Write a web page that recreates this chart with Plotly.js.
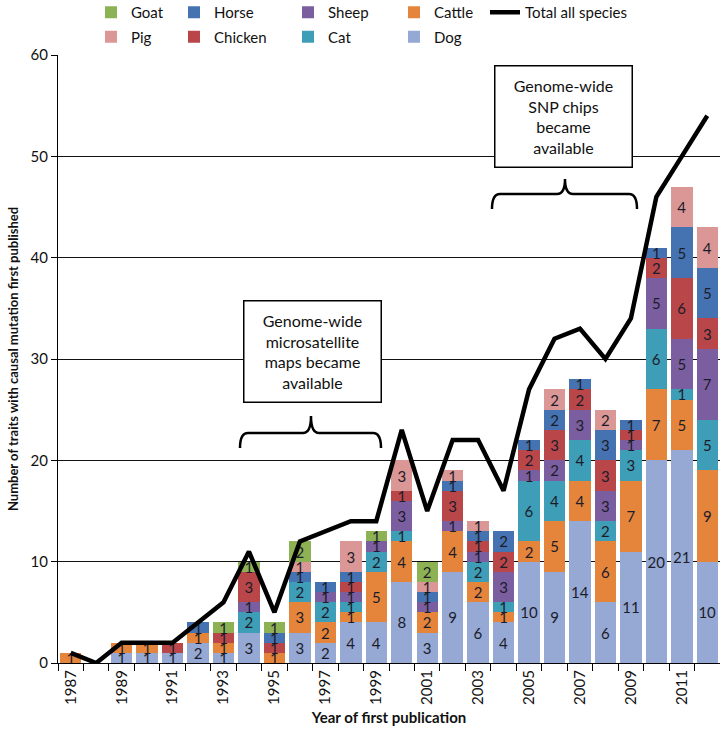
<!DOCTYPE html>
<html>
<head>
<meta charset="utf-8">
<script src="https://cdn.plot.ly/plotly-3.0.1.min.js"></script>
<style>html,body{margin:0;padding:0;background:#fff;}#chart{width:720px;height:733px;}</style>
</head>
<body>
<div id="chart"></div>
<script>
// ---- data ----
const years   = [1987,1988,1989,1990,1991,1992,1993,1994,1995,1996,1997,1998,1999,2000,2001,2002,2003,2004,2005,2006,2007,2008,2009,2010,2011,2012];
const dog     = [0,0,1,1,1,2,1,3,0,3,2,4,4,8,3,9,6,4,10,9,14,6,11,20,21,10];
const cattle  = [1,0,1,1,0,1,1,0,1,3,2,1,5,4,2,4,2,1,2,5,4,6,7,7,5,9];
const cat     = [0,0,0,0,0,0,0,2,0,2,2,1,2,1,0,0,2,1,6,4,4,2,3,6,1,5];
const sheep   = [0,0,0,0,0,0,0,1,0,0,1,1,1,3,1,1,1,3,1,2,3,3,1,5,5,7];
const chicken = [0,0,0,0,1,0,1,3,1,0,0,1,0,1,0,3,1,2,2,3,2,3,1,2,6,3];
const horse   = [0,0,0,0,0,1,0,0,1,1,1,1,0,0,1,1,1,2,1,2,1,3,1,1,5,5];
const pig     = [0,0,0,0,0,0,0,0,0,1,0,3,0,3,1,1,1,0,0,2,0,2,0,0,4,4];
const goat    = [0,0,0,0,0,0,1,1,1,2,0,0,1,0,2,0,0,0,0,0,0,0,0,0,0,0];
const totalAll = [1,0,2,2,2,4,6,11,5,12,13,14,14,23,15,22,22,17,27,32,33,30,34,46,50,54];
const tickYears = years.filter(y => y % 2 === 1);
const boundaries = years.map(y => y - 0.5).concat([years[years.length-1] + 0.5]);

// ---- styling ----
const FONT = 'Lato, "Open Sans", sans-serif';
const L = 58, R = 0, T = 55, B = 70, W = 720, H = 733;
const PW = W - L - R, PH = H - T - B;
const px = x => (x - L) / PW;           // pixel -> paper x
const py = y => (H - B - y) / PH;       // pixel -> paper y

function barTrace(name, vals, color, legendId, rank) {
  return {
    type: 'bar', name: name, x: years, y: vals,
    marker: {color: color, line: {width: 0}},
    text: vals.map(v => v ? String(v) : ''),
    textposition: 'inside', insidetextanchor: 'middle', textangle: 0,
    constraintext: 'none',
    textfont: {family: FONT, size: 15, color: '#1c1c2a'},
    hoverinfo: 'x+y+name',
    legend: legendId, legendgroup: name, legendrank: rank
  };
}

const data = [
  {type: 'scatter', mode: 'lines', name: 'Total all species', x: years, y: totalAll,
   line: {color: '#000000', width: 4.5}, legend: 'legend5', legendgroup: 'total', legendrank: 1},
  barTrace('Dog', dog, '#95A9D4', 'legend4', 2),
  barTrace('Cattle', cattle, '#E5853B', 'legend4', 1),
  barTrace('Cat', cat, '#3E9EB7', 'legend3', 2),
  barTrace('Sheep', sheep, '#7B5E9F', 'legend3', 1),
  barTrace('Chicken', chicken, '#B9474A', 'legend2', 2),
  barTrace('Horse', horse, '#4573B2', 'legend2', 1),
  barTrace('Pig', pig, '#DB9796', 'legend', 2),
  barTrace('Goat', goat, '#8CB254', 'legend', 1)
];

function leg(xpx) {
  return {x: px(xpx), xanchor: 'left', y: 1 + (T + 4) / PH, yanchor: 'top',
          orientation: 'v', traceorder: 'grouped', tracegroupgap: 2,
          bgcolor: 'rgba(0,0,0,0)', borderwidth: 0,
          font: {family: FONT, size: 15, color: '#111'}};
}

function bracePath(x1, x2, xm, yEnd, yBar, yTip) {
  const r = 8;
  const P = (x, y) => px(x) + ',' + py(y);
  return 'M' + P(x1, yEnd) + ' Q' + P(x1, yBar) + ' ' + P(x1 + r, yBar) +
         ' L' + P(xm - r, yBar) + ' Q' + P(xm, yBar) + ' ' + P(xm, yTip) +
         ' Q' + P(xm, yBar) + ' ' + P(xm + r, yBar) +
         ' L' + P(x2 - r, yBar) + ' Q' + P(x2, yBar) + ' ' + P(x2, yEnd);
}

const layout = {
  width: W, height: H,
  margin: {l: L, r: R, t: T, b: B, autoexpand: false},
  paper_bgcolor: '#ffffff', plot_bgcolor: '#ffffff',
  barmode: 'stack', bargap: 0.16,
  uniformtext: {mode: 'show', minsize: 15},
  font: {family: FONT, size: 14, color: '#111'},
  showlegend: true,
  legend: leg(91), legend2: leg(174), legend3: leg(288), legend4: leg(394), legend5: leg(485),
  xaxis: {
    type: 'linear', range: [years[0] - 0.5, years[years.length-1] + 0.5],
    tickmode: 'array', tickvals: tickYears, ticktext: tickYears.map(String),
    ticks: '', tickangle: -90, showgrid: false, zeroline: false,
    showline: true, linecolor: '#000', linewidth: 1.3,
    tickfont: {family: FONT, size: 15, color: '#111'},
    minor: {tickmode: 'array', tickvals: boundaries, ticks: 'outside', ticklen: 7, tickcolor: '#000', tickwidth: 1, showgrid: false},
    title: {text: '<b>Year of first publication</b>', font: {family: FONT, size: 15, color: '#111'}, standoff: 8}
  },
  yaxis: {
    range: [0, 60], dtick: 10, tick0: 0,
    showgrid: true, gridcolor: '#111', gridwidth: 1,
    zeroline: false, showline: true, linecolor: '#000', linewidth: 1.3,
    ticks: 'outside', ticklen: 6, tickcolor: '#000',
    tickfont: {family: FONT, size: 15, color: '#111'},
    title: {text: '<b>Number of traits with causal mutation first published</b>', font: {family: FONT, size: 13, color: '#111'}, standoff: 8}
  },
  shapes: [
    {type: 'path', xref: 'paper', yref: 'paper', path: bracePath(240, 381, 311, 448, 433, 416), line: {color: '#000', width: 2.5}},
    {type: 'path', xref: 'paper', yref: 'paper', path: bracePath(492, 637, 565, 209, 194, 179), line: {color: '#000', width: 2.5}}
  ],
  annotations: [
    {xref: 'paper', yref: 'paper', x: px(312), y: py(351), xanchor: 'center', yanchor: 'middle',
     text: 'Genome-wide<br>microsatellite<br>maps became<br>available', showarrow: false, align: 'center',
     font: {family: FONT, size: 16, color: '#111'}, bgcolor: '#fff', bordercolor: '#000', borderwidth: 1.5,
     width: 132, height: 96, borderpad: 2},
    {xref: 'paper', yref: 'paper', x: px(563.5), y: py(116.5), xanchor: 'center', yanchor: 'middle',
     text: 'Genome-wide<br>SNP chips<br>became<br>available', showarrow: false, align: 'center',
     font: {family: FONT, size: 16, color: '#111'}, bgcolor: '#fff', bordercolor: '#000', borderwidth: 1.5,
     width: 132, height: 96, borderpad: 2}
  ]
};

Plotly.newPlot('chart', data, layout, {displayModeBar: false, responsive: false});
</script>
</body>
</html>
